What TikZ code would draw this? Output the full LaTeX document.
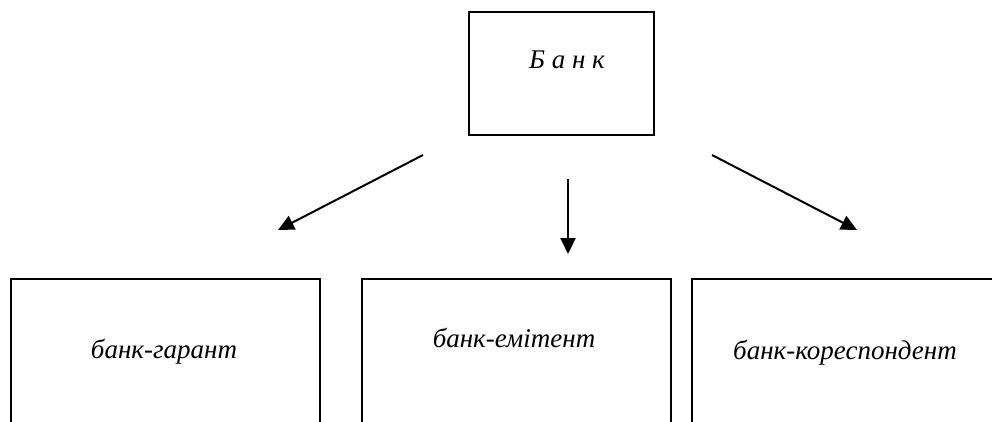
\documentclass[tikz,border=0pt]{standalone}
\usepackage{fontspec}
\setmainfont{Liberation Serif}
\usetikzlibrary{arrows.meta}
\begin{document}
\begin{tikzpicture}[x=1pt,y=-1pt,
  box/.style={draw,line width=2pt,rectangle,inner sep=0pt},
  lbl/.style={font=\fontsize{27}{30}\selectfont\itshape,inner sep=0pt},
  arr/.style={line width=2pt,-{Triangle[length=16pt,width=15pt]}}]
\useasboundingbox (0,0) rectangle (992,421);
\clip (0,0) rectangle (992,421);
\fill[white] (0,0) rectangle (992,421);
% top box and its title
\node[box,minimum width=185pt,minimum height=123pt] (bank) at (561.5,73.5) {};
\node[lbl] (banktxt) at (567,60) {Б а н к};
% lower boxes, running past the lower edge
\node[box,minimum width=309pt,minimum height=170pt] (guar) at (165.5,364) {};
\node[box,minimum width=309pt,minimum height=170pt] (emit) at (516.5,364) {};
\node[box,minimum width=320pt,minimum height=170pt] (corr) at (852,364) {};
\node[lbl] (guartxt) at (164,352) {банк-гарант};
\node[lbl] (emittxt) at (514,338) {банк-емітент};
\node[lbl] (corrtxt) at (845,353) {банк-кореспондент};
% free ends of the arrows
\coordinate (a1s) at (423,155);
\coordinate (a1e) at (278,230);
\coordinate (a2s) at (568,179);
\coordinate (a2e) at (568,254);
\coordinate (a3s) at (712,155);
\coordinate (a3e) at (857,230);
\draw[arr] (a1s) -- (a1e);
\draw[arr] (a2s) -- (a2e);
\draw[arr] (a3s) -- (a3e);
\end{tikzpicture}
\end{document}
